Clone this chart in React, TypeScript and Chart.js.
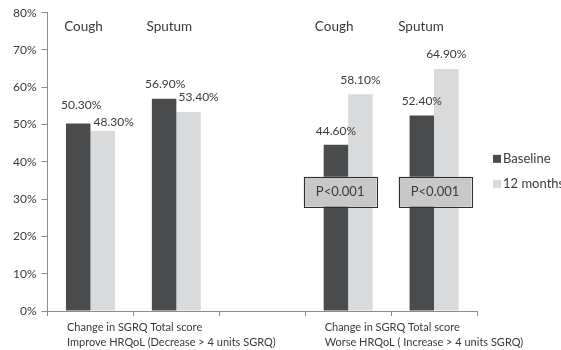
import { useEffect, useRef } from "react";
import { Chart, registerables } from "chart.js";

Chart.register(...registerables);

// ---------- data ----------
const categories = ["Cough", "Sputum", "", "Cough", "Sputum"];
const groupLabels = [
  ["Change in SGRQ Total score", "Improve HRQoL (Decrease > 4 units SGRQ)"],
  "",
  "",
  ["Change in SGRQ Total score", "Worse HRQoL ( Increase > 4 units SGRQ)"],
  "",
];
const seriesNames = ["Baseline", "12 months"];
const baseline = [50.3, 56.9, null, 44.6, 52.4];
const months12 = [48.3, 53.4, null, 58.1, 64.9];
const pValues = [null, null, null, "P<0.001", "P<0.001"];
const pValueLevel = 32;
const yMax = 80;
const yStep = 10;

// ---------- style ----------
const FONT = "Lato";
const TEXT = "#3a3a3a";
const AXIS = "#8c8c8c";
const DARK = "#4a4b4d";
const LIGHT = "#d9dadc";
const valueNudge = [
  [[3, -3.5], [1, 0], [0, 0], [0, 0.5], [0, 0]],
  [[11, 5.5], [10, 0], [0, 0], [0, 0], [0, 0]],
];
const headerNudge = [-7, -7, 0, -14, -13];
const pBoxNudge = [0, 0, 0, -8, 1];

const annotations = {
  id: "annotations",
  afterDatasetsDraw(chart: any) {
    const ctx = chart.ctx;
    const xs = chart.scales.x;
    const ys = chart.scales.y;
    ctx.save();

    // p-value boxes
    pValues.forEach((p, i) => {
      if (!p) return;
      const cx = xs.getPixelForValue(i) + pBoxNudge[i];
      const cy = ys.getPixelForValue(pValueLevel);
      const w = 73;
      const h = 30;
      ctx.fillStyle = "#c8c8c8";
      ctx.fillRect(cx - w / 2, cy - h / 2, w, h);
      ctx.strokeStyle = "#2e2e2e";
      ctx.lineWidth = 1;
      ctx.strokeRect(Math.round(cx - w / 2) + 0.5, Math.round(cy - h / 2) + 0.5, w, h);
      ctx.fillStyle = TEXT;
      ctx.font = `13px ${FONT}`;
      ctx.textAlign = "center";
      ctx.textBaseline = "middle";
      ctx.fillText(p, cx, cy + 0.5);
    });

    // value labels
    ctx.font = `12px ${FONT}`;
    ctx.fillStyle = TEXT;
    ctx.textAlign = "center";
    ctx.textBaseline = "middle";
    chart.data.datasets.forEach((ds: any, di: number) => {
      const meta = chart.getDatasetMeta(di);
      meta.data.forEach((bar: any, i: number) => {
        const v = ds.data[i];
        if (v == null) return;
        const [dx, dy] = valueNudge[di][i];
        ctx.fillText(v.toFixed(2) + "%", bar.x + dx, bar.y - 14.5 + dy);
      });
    });

    // group headers
    ctx.font = `13.5px ${FONT}`;
    categories.forEach((c, i) => {
      if (!c) return;
      ctx.fillText(c, xs.getPixelForValue(i) + headerNudge[i], ys.top + 13.5);
    });
    ctx.restore();
  },
  afterDraw(chart: any) {
    const ctx = chart.ctx;
    const area = chart.chartArea;
    ctx.save();
    ctx.font = `13px ${FONT}`;
    ctx.textAlign = "left";
    ctx.textBaseline = "middle";
    const x0 = area.right + 16;
    const y0 = area.top + (area.bottom - area.top) * 0.49;
    chart.data.datasets.forEach((ds: any, di: number) => {
      const cy = y0 + di * 25;
      ctx.fillStyle = ds.backgroundColor;
      ctx.fillRect(x0, cy - 4, 8, 8);
      ctx.fillStyle = TEXT;
      ctx.fillText(ds.label, x0 + 10, cy);
    });
    ctx.restore();
  },
};

export default function App() {
  const ref = useRef<HTMLCanvasElement | null>(null);

  useEffect(() => {
    document.body.style.margin = "0";
    if (!ref.current) return;
    Chart.defaults.font.family = FONT;
    Chart.defaults.color = TEXT;
    const chart = new Chart(ref.current, {
      type: "bar",
      data: {
        labels: groupLabels as any,
        datasets: [
          {
            label: seriesNames[0],
            data: baseline as any,
            backgroundColor: DARK,
            categoryPercentage: 0.57,
            barPercentage: 1,
          },
          {
            label: seriesNames[1],
            data: months12 as any,
            backgroundColor: LIGHT,
            categoryPercentage: 0.57,
            barPercentage: 1,
          },
        ],
      },
      options: {
        responsive: false,
        animation: false,
        layout: { padding: { left: 0, right: 84, top: 12.7, bottom: 0 } },
        plugins: {
          legend: { display: false },
          tooltip: { enabled: false },
        },
        scales: {
          x: {
            grid: {
              offset: true,
              drawOnChartArea: false,
              drawTicks: true,
              tickLength: 5,
              color: AXIS,
            },
            border: { display: true, color: AXIS, width: 1 },
            ticks: {
              autoSkip: false,
              maxRotation: 0,
              minRotation: 0,
              align: "start",
              labelOffset: -23.5,
              padding: 4,
              color: TEXT,
              font: { size: 11, family: FONT, lineHeight: 1.35 },
            },
            afterFit(scale: any) {
              scale.height = 39;
            },
          },
          y: {
            min: 0,
            max: yMax,
            grid: {
              drawOnChartArea: false,
              drawTicks: true,
              tickLength: 6,
              color: AXIS,
            },
            border: { display: true, color: AXIS, width: 1 },
            ticks: {
              stepSize: yStep,
              padding: 5,
              color: TEXT,
              font: { size: 12, family: FONT },
              callback: (v: any) => v + "%",
            },
            afterFit(scale: any) {
              scale.width = 47.5;
            },
          },
        },
      },
      plugins: [annotations],
    });
    return () => chart.destroy();
  }, []);

  return (
    <div style={{ width: 561, height: 350 }}>
      <canvas ref={ref} width={561} height={350} />
    </div>
  );
}
